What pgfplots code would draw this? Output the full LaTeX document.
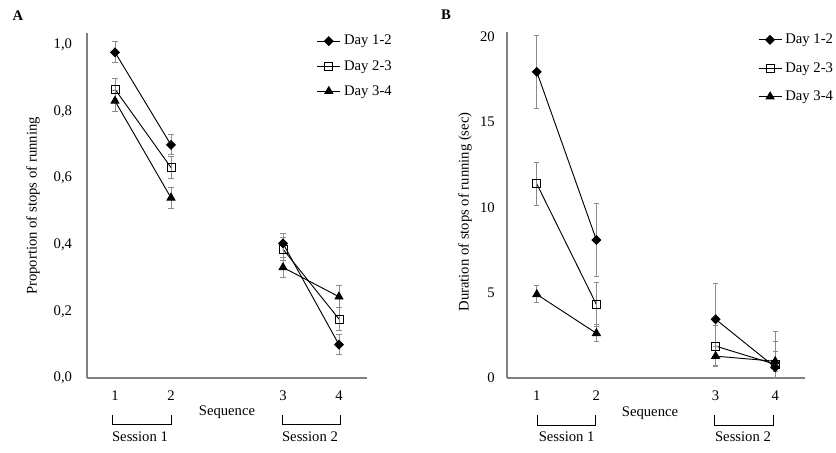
\documentclass[border=0pt]{standalone}
\usepackage{fontspec}
\setmainfont{Liberation Serif}
\usepackage{pgfplots}
\pgfplotsset{compat=1.18}

\definecolor{axgray}{RGB}{128,128,128}
\definecolor{errgray}{RGB}{140,140,140}

% common look of both panels
\pgfplotsset{
  panel/.style={
    scale only axis,
    axis lines*=left,
    axis line style={axgray, line width=0.8pt},
    major tick length=0pt,
    xmin=0.5, xmax=5.5,
    xtick={1,2,4,5},
    xticklabels={1,2,3,4},
    ymin=0,
    clip=false,
    font=\fontsize{11}{13}\selectfont,
    xticklabel style={anchor=north, inner sep=0pt, yshift=-9.5pt},
    /pgf/number format/assume math mode=true,
    legend cell align=left,
    legend image code/.code={
      \draw[mark repeat=2, mark phase=2] plot coordinates {(0pt,0pt) (8.6pt,0pt) (17.2pt,0pt)};
    },
    legend style={draw=none, fill=none, inner sep=0pt, column sep=1.5pt,
      nodes={inner sep=1pt}, font=\fontsize{11}{13}\selectfont},
  },
  ser/.style={black, line width=0.7pt,
    error bars/y dir=both, error bars/y explicit,
    error bars/error bar style={errgray, line width=0.7pt},
    error bars/error mark options={errgray, rotate=90, mark size=2pt, line width=0.7pt}},
  d12/.style={mark=square*, mark size=2.3pt, mark options={rotate=45, fill=black, solid}},
  d23/.style={mark=square, mark size=3pt, mark options={fill=white, solid, line width=0.7pt}},
  d34/.style={mark=triangle*, mark size=3.4pt, mark options={fill=black, solid}},
}

\begin{document}
\begin{tikzpicture}[font=\fontsize{11}{13}\selectfont]
\useasboundingbox (0,0) rectangle (627pt,339.75pt);

% ---------- panel A ----------
\begin{axis}[panel,
  at={(65.25pt,56.25pt)}, anchor=south west,
  width=210pt, height=258.75pt,
  ymax=1.036,
  ytick={0,0.2,0.4,0.6,0.8,1.0},
  yticklabel style={anchor=east, inner sep=0pt, xshift=-11pt,
    /pgf/number format/.cd, fixed, fixed zerofill, precision=1, use comma},
  legend style={at={(axis description cs:0.82,0.998)}, anchor=north west,
    row sep=8pt},
]
% session 1
\addplot[ser, d12] coordinates {(1,0.978) +- (0,0.032) (2,0.700) +- (0,0.030)};
\addlegendentry{Day 1-2}
\addplot[ser, d23] coordinates {(1,0.867) +- (0,0.033) (2,0.632) +- (0,0.033)};
\addlegendentry{Day 2-3}
\addplot[ser, d34] coordinates {(1,0.832) +- (0,0.032) (2,0.541) +- (0,0.032)};
\addlegendentry{Day 3-4}
% session 2
\addplot[ser, d12, forget plot] coordinates {(4,0.404) +- (0,0.030) (5,0.100) +- (0,0.030)};
\addplot[ser, d23, forget plot] coordinates {(4,0.387) +- (0,0.035) (5,0.177) +- (0,0.035)};
\addplot[ser, d34, forget plot] coordinates {(4,0.332) +- (0,0.031) (5,0.244) +- (0,0.033)};
\end{axis}

% ---------- panel B ----------
\begin{axis}[panel,
  at={(380.25pt,56.25pt)}, anchor=south west,
  width=223.5pt, height=259.7pt,
  ymax=20.29,
  ytick={0,5,10,15,20},
  yticklabel style={anchor=east, inner sep=0pt, xshift=-9pt},
  legend style={at={(axis description cs:0.842,0.998)}, anchor=north west,
    row sep=10.5pt},
]
% session 1
\addplot[ser, d12] coordinates {(1,17.94) +- (0,2.15) (2,8.09) +- (0,2.15)};
\addlegendentry{Day 1-2}
\addplot[ser, d23] coordinates {(1,11.37) +- (0,1.24) (2,4.31) +- (0,1.27)};
\addlegendentry{Day 2-3}
\addplot[ser, d34] coordinates {(1,4.90) +- (0,0.50) (2,2.62) +- (0,0.50)};
\addlegendentry{Day 3-4}
% session 2 (lower errors at the last point stop at the axis)
\addplot[ser, d12, forget plot] coordinates {(4,3.44) +- (0,2.10) (5,0.63) += (0,2.08) -= (0,0.63)};
\addplot[ser, d23, forget plot] coordinates {(4,1.87) +- (0,1.20) (5,0.80) += (0,1.33) -= (0,0.80)};
\addplot[ser, d34, forget plot] coordinates {(4,1.28) +- (0,0.55) (5,0.98) +- (0,0.57)};
\end{axis}

% panel letters and axis titles
\node[font=\fontsize{11}{13}\selectfont\bfseries] at (13.5pt,327.75pt) {A};
\node[font=\fontsize{11}{13}\selectfont\bfseries] at (334.5pt,328.5pt) {B};
\node[rotate=90] at (24.75pt,185.25pt) {Proportion of stops of running};
\node[rotate=90] at (348.75pt,180.75pt) {Duration of stops of running (sec)};
\node at (170.25pt,30.75pt) {Sequence};
\node at (487.5pt,30pt) {Sequence};

% session brackets
\draw[black, line width=0.6pt] (84pt,28.5pt) -- (84pt,21.75pt) -- (128.25pt,21.75pt) -- (128.25pt,28.5pt);
\draw[black, line width=0.6pt] (211.5pt,28.5pt) -- (211.5pt,21.75pt) -- (255pt,21.75pt) -- (255pt,28.5pt);
\draw[black, line width=0.6pt] (402.75pt,28.5pt) -- (402.75pt,21pt) -- (446.25pt,21pt) -- (446.25pt,28.5pt);
\draw[black, line width=0.6pt] (535.5pt,28.5pt) -- (535.5pt,21pt) -- (579.75pt,21pt) -- (579.75pt,28.5pt);
\node at (105pt,12pt) {Session 1};
\node at (232.5pt,12pt) {Session 2};
\node at (425pt,12.25pt) {Session 1};
\node at (557.25pt,12.25pt) {Session 2};
\end{tikzpicture}
\end{document}
